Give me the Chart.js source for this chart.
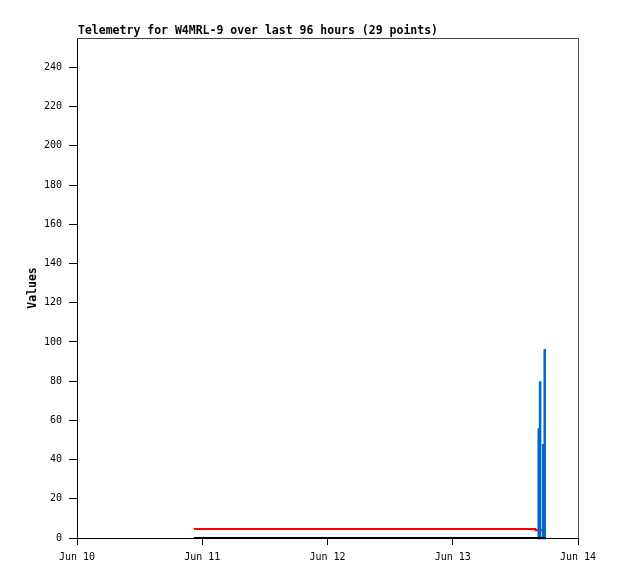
<!DOCTYPE html>
<html>
<head>
<meta charset="utf-8">
<script src="https://cdn.jsdelivr.net/npm/chart.js@4/dist/chart.umd.min.js"></script>
<style>
  html, body { margin: 0; padding: 0; background: #fff; }
  canvas { display: block; }
</style>
</head>
<body>
<canvas id="chart" width="618" height="579"></canvas>
<script>
// telemetry data, hours since Jun 10 00:00
const titleText = "Telemetry for W4MRL-9 over last 96 hours (29 points)";
const xTickHours = [0, 24, 48, 72, 96];
const xTickLabels = ["Jun 10", "Jun 11", "Jun 12", "Jun 13", "Jun 14"];
const yTicks = [0, 20, 40, 60, 80, 100, 120, 140, 160, 180, 200, 220, 240];

const blackTimes = [22.4, 89.8];
const blackValues = [0, 0];
const redTimes = [22.4, 87.85, 87.85, 89.34];
const redValues = [4.6, 4.6, 3.9, 3.9];
const blueTimes = [88.48, 88.48, 88.48, 88.74, 88.74, 88.74, 89.35, 89.35, 89.35, 89.62, 89.62, 89.62];
const blueValues = [0, 56, 0, 0, 80, 0, 0, 48, 0, 0, 96.4, 0];

const pts = (xs, ys) => xs.map((x, i) => ({ x, y: ys[i] }));
const mono = "'DejaVu Sans Mono', 'Liberation Mono', monospace";

// title + top/right frame
const framePlugin = {
  id: "frame",
  afterDraw(chart) {
    const { ctx, chartArea: a } = chart;
    ctx.save();
    ctx.strokeStyle = "#444";
    ctx.lineWidth = 1;
    ctx.beginPath();
    ctx.moveTo(a.left, a.top + 0.5);
    ctx.lineTo(a.right + 0.5, a.top + 0.5);
    ctx.lineTo(a.right + 0.5, a.bottom);
    ctx.stroke();
    ctx.fillStyle = "#000";
    ctx.font = "bold 11.5px " + mono;
    ctx.textBaseline = "alphabetic";
    ctx.textAlign = "left";
    ctx.fillText(titleText, 78, 34);
    ctx.restore();
  },
};

const line = (data, color, width, order) => ({
  data,
  borderColor: color,
  borderWidth: width,
  pointRadius: 0,
  tension: 0,
  fill: false,
  clip: 3,
  order,
});

new Chart(document.getElementById("chart"), {
  type: "line",
  data: {
    datasets: [
      line(pts(blackTimes, blackValues), "#000000", 2, 0),
      line(pts(blueTimes, blueValues), "#0066cc", 2.5, 1),
      line(pts(redTimes, redValues), "#ff0000", 2, 2),
    ],
  },
  options: {
    responsive: false,
    animation: false,
    events: [],
    layout: { padding: { top: 38, right: 40, left: 22, bottom: 0 } },
    plugins: { legend: { display: false }, tooltip: { enabled: false } },
    scales: {
      x: {
        type: "linear",
        min: 0,
        max: 96,
        afterBuildTicks: (s) => { s.ticks = xTickHours.map((v) => ({ value: v })); },
        afterFit: (s) => { s.height = 41; },
        ticks: {
          callback: (v) => xTickLabels[xTickHours.indexOf(v)],
          font: { family: mono, size: 10 },
          color: "#000",
          padding: 6,
          maxRotation: 0,
          autoSkip: false,
        },
        grid: { drawOnChartArea: false, drawTicks: true, tickLength: 7, color: "#000" },
        border: { display: true, color: "#000" },
      },
      y: {
        min: 0,
        max: 255,
        afterBuildTicks: (s) => { s.ticks = yTicks.map((v) => ({ value: v })); },
        afterFit: (s) => { s.width = 55; },
        ticks: {
          font: { family: mono, size: 10 },
          color: "#000",
          padding: 7,
        },
        grid: { drawOnChartArea: false, drawTicks: true, tickLength: 8, color: "#000" },
        border: { display: true, color: "#000" },
        title: {
          display: true,
          text: "Values",
          color: "#000",
          font: { family: mono, size: 11.5, weight: "bold" },
          padding: 4,
        },
      },
    },
  },
  plugins: [framePlugin],
});
</script>
</body>
</html>
